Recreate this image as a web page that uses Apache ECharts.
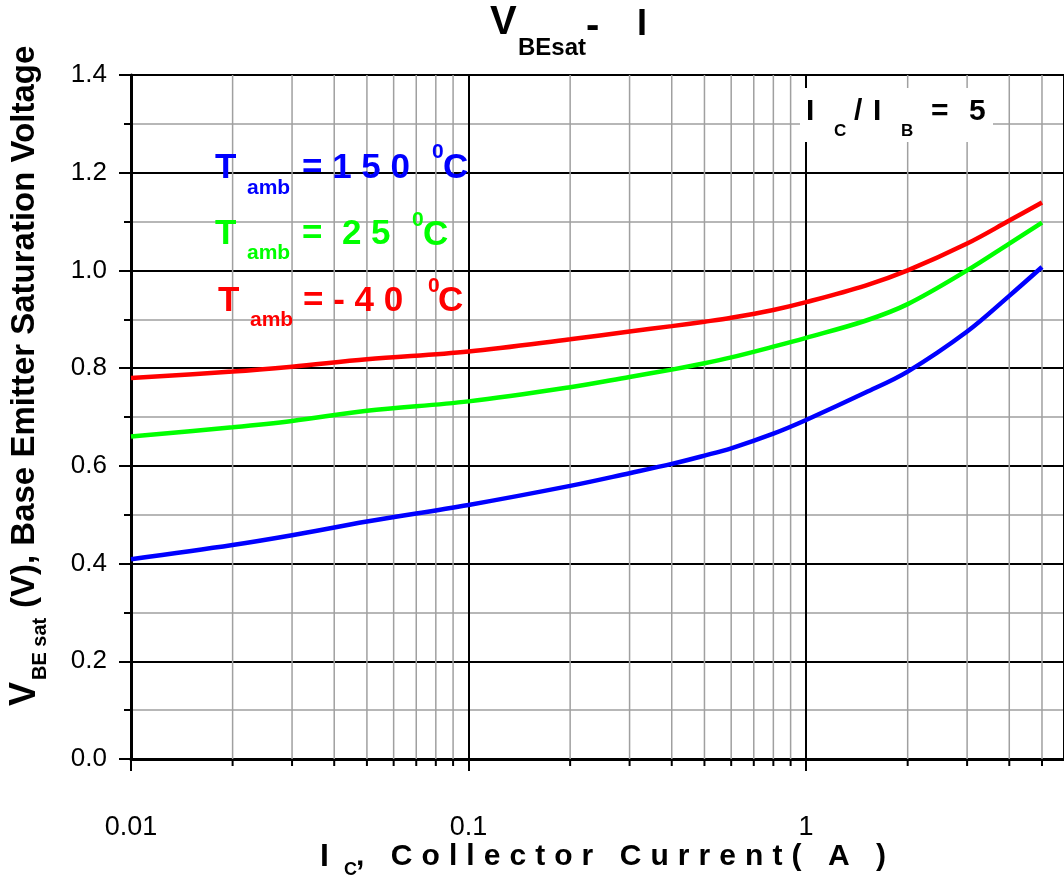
<!DOCTYPE html>
<html><head><meta charset="utf-8">
<script src="https://cdn.jsdelivr.net/npm/echarts@6/dist/echarts.min.js"></script>
<style>html,body{margin:0;padding:0;background:#fff}#c{width:1064px;height:879px}</style>
</head><body><div id="c"></div>
<script>
// ---- data ----
const currents = [0.01,0.02,0.03,0.05,0.1,0.2,0.3,0.4,0.5,0.6,0.8,1,1.5,2,3,4,5];
const vbe150 = [0.409,0.438,0.458,0.486,0.520,0.559,0.585,0.604,0.621,0.636,0.666,0.694,0.750,0.793,0.875,0.948,1.007];
const vbe25  = [0.660,0.679,0.692,0.713,0.732,0.761,0.782,0.797,0.810,0.822,0.844,0.862,0.897,0.931,1.000,1.055,1.098];
const vbeM40 = [0.780,0.793,0.803,0.818,0.834,0.859,0.875,0.886,0.895,0.903,0.919,0.935,0.969,1.000,1.055,1.102,1.139];
const xTickValues = [0.01,0.1,1];
const xTickLabels = ['0.01','0.1','1'];
const yTickLabels = ['0.0','0.2','0.4','0.6','0.8','1.0','1.2','1.4'];
const minorCurrents = [0.02,0.03,0.04,0.05,0.06,0.07,0.08,0.09,0.2,0.3,0.4,0.5,0.6,0.7,0.8,0.9,2,3,4,5];

const F = '"Liberation Sans", Arial, sans-serif';
const BLUE = '#0000ff', GREEN = '#00ff00', RED = '#ff0000';

function T(x, y, text, size, color, extra) {
  return Object.assign({
    type: 'text', x: x, y: y, z: 20,
    style: { text: text, font: 'bold ' + size + 'px ' + F, fill: color || '#000',
      textAlign: 'left', align: 'left', textVerticalAlign: 'middle', verticalAlign: 'middle' }
  }, extra || {});
}

const measureCtx = document.createElement('canvas').getContext('2d');
function spaced(text, x0, x1, y, size, color) {
  measureCtx.font = 'bold ' + size + 'px ' + F;
  const chars = text.split('');
  const widths = chars.map(c => measureCtx.measureText(c).width);
  const total = widths.reduce((a, b) => a + b, 0);
  const gap = (x1 - x0 - total) / (chars.length - 1);
  const out = [];
  let x = x0;
  chars.forEach((c, i) => {
    if (c !== ' ') out.push(T(x, y, c, size, color));
    x += widths[i] + gap;
  });
  return out;
}

const pairs = arr => currents.map((c, i) => [c, arr[i]]);

const graphics = [
  // title
  T(490, 23, 'V', 40), T(518, 48, 'BEsat', 24), T(586, 27, '-', 40), T(637, 25, 'I', 36),
  // Ic/Ib box
  { type: 'rect', z: 15, shape: { x: 800, y: 88, width: 193, height: 54 }, style: { fill: '#fff' } },
  T(806, 112, 'I', 30), T(834, 131, 'C', 17), T(854, 112, '/', 30), T(873, 112, 'I', 30),
  T(901, 131, 'B', 17), T(931, 112, '=', 30), T(969, 112, '5', 30),
  // legend labels
  T(215, 168, 'T', 35, BLUE), T(247, 188, 'amb', 21, BLUE), T(302, 168, '= 1 5 0', 35, BLUE),
  T(432, 152, '0', 21, BLUE), T(443, 168, 'C', 35, BLUE),
  T(215, 234, 'T', 35, GREEN), T(247, 253, 'amb', 21, GREEN), T(302, 234, '=  2 5', 35, GREEN),
  T(412, 220, '0', 21, GREEN), T(423, 235, 'C', 35, GREEN),
  T(218, 301, 'T', 35, RED), T(250, 320, 'amb', 21, RED), T(303, 301, '= - 4 0', 35, RED),
  T(428, 286, '0', 21, RED), T(438, 301, 'C', 35, RED),
  // x axis name
  T(320, 857, 'I', 32), T(344, 870, 'C', 18)
].concat(spaced(', Collector Current( A )', 356, 886, 857, 30, '#000'))
 .concat([
  // y axis name (rotated)
  { type: 'group', x: 0, y: 706, rotation: Math.PI / 2, z: 20, children: [
    T(0, 25, 'V', 36), T(26, 40, 'BE sat', 20), T(98, 25, '(V), Base Emitter Saturation Voltage', 33)
  ]}
 ]);

const chart = echarts.init(document.getElementById('c'), null, { renderer: 'canvas' });
chart.setOption({
  animation: false,
  backgroundColor: '#fff',
  grid: { left: 131, right: 0, top: 75, bottom: 120, containLabel: false },
  xAxis: {
    type: 'log', logBase: 10, min: 0.01, max: 5.81, splitNumber: 3,
    axisLine: { show: true, onZero: false, lineStyle: { color: '#000', width: 3 } },
    axisTick: { show: true, inside: false, length: 12, lineStyle: { color: '#000', width: 2 } },
    axisLabel: {
      margin: 55, color: '#000', fontFamily: F, fontSize: 27, showMaxLabel: false,
      formatter: function (v) {
        for (let i = 0; i < xTickValues.length; i++) {
          if (Math.abs(Math.log10(v) - Math.log10(xTickValues[i])) < 1e-6) return xTickLabels[i];
        }
        return '';
      }
    },
    splitLine: { show: true, lineStyle: { color: '#000', width: 2 } }
  },
  yAxis: {
    type: 'value', min: 0, max: 1.4, interval: 0.2,
    axisLine: { show: true, onZero: false, lineStyle: { color: '#000', width: 3 } },
    axisTick: { show: true, inside: false, length: 12, lineStyle: { color: '#000', width: 2 } },
    minorTick: { show: true, splitNumber: 2, length: 7, lineStyle: { color: '#000', width: 2 } },
    axisLabel: {
      margin: 24, color: '#000', fontFamily: F, fontSize: 26,
      formatter: function (v) { return yTickLabels[Math.round(v / 0.2)]; }
    },
    splitLine: { show: true, lineStyle: { color: '#000', width: 2 } },
    minorSplitLine: { show: true, lineStyle: { color: '#a0a0a0', width: 1.5 } }
  },
  graphic: graphics,
  series: [
    {
      type: 'custom', silent: true, clip: false, z: 1,
      data: minorCurrents.map(v => [v, 0]),
      encode: { x: 0, y: 1 },
      renderItem: function (params, api) {
        const x = api.value(0);
        const top = api.coord([x, 1.4]);
        const bot = api.coord([x, 0]);
        return { type: 'group', children: [
          { type: 'line', shape: { x1: top[0], y1: top[1], x2: bot[0], y2: bot[1] }, style: { stroke: '#a0a0a0', lineWidth: 1.5 } },
          { type: 'line', shape: { x1: bot[0], y1: bot[1], x2: bot[0], y2: bot[1] + 7 }, style: { stroke: '#000', lineWidth: 2 } }
        ]};
      }
    },
    { name: '150', type: 'line', data: pairs(vbe150), smooth: 0.35, symbol: 'none', lineStyle: { color: BLUE, width: 4.5 }, z: 5 },
    { name: '25', type: 'line', data: pairs(vbe25), smooth: 0.35, symbol: 'none', lineStyle: { color: GREEN, width: 4.5 }, z: 5 },
    { name: '-40', type: 'line', data: pairs(vbeM40), smooth: 0.35, symbol: 'none', lineStyle: { color: RED, width: 4.5 }, z: 5 }
  ]
});
</script></body></html>
